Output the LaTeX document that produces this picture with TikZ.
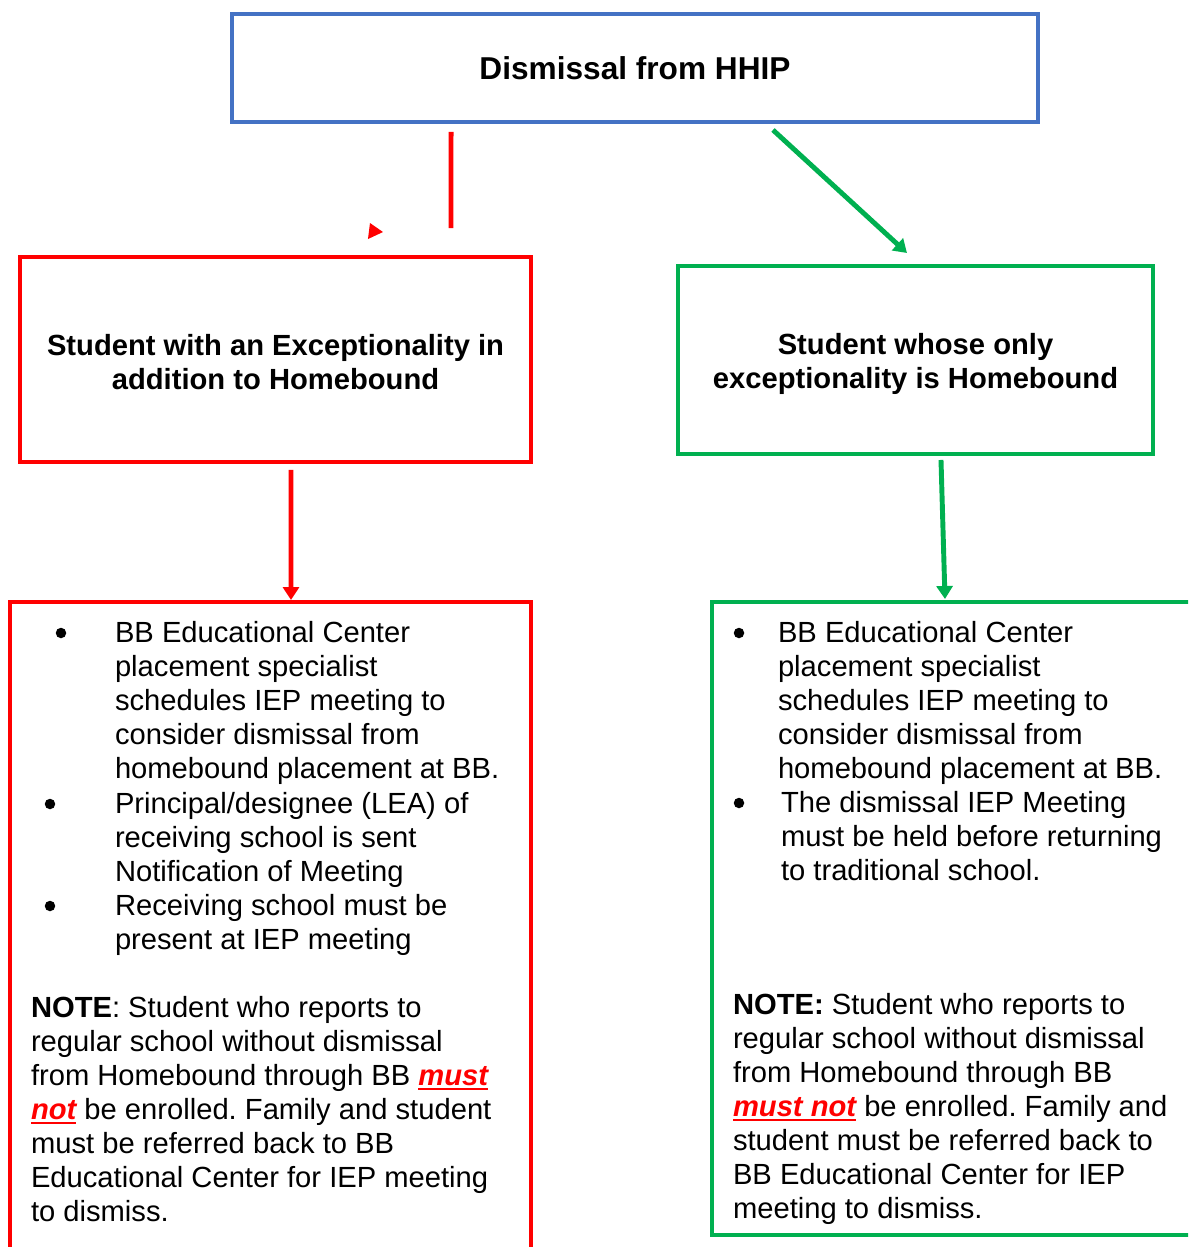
\documentclass[tikz,border=0pt]{standalone}
\usepackage{fontspec}
\setmainfont{Liberation Sans}
\frenchspacing
\usetikzlibrary{positioning}
\usetikzlibrary{calc}
\usetikzlibrary{arrows.meta}
\definecolor{blue}{RGB}{68,114,196}
\definecolor{red}{RGB}{255,0,0}
\definecolor{green}{RGB}{0,176,80}
\newcommand{\mustnot}[1]{{\color{red}\bfseries\itshape\setbox0\hbox{#1}\rlap{\vrule height -1.3pt depth 2.6pt width \wd0}\box0}}

\begin{document}
\begin{tikzpicture}[x=0.02cm, y=-0.02cm, line width=2.3pt,
    box/.style={draw, rectangle, inner sep=0pt, outer sep=0pt},
    head/.style={align=center, inner sep=0pt, font=\fontsize{16.6}{19.35}\selectfont\bfseries},
    txt/.style={align=left, anchor=north west, inner sep=0pt, font=\fontsize{16.6}{19.35}\selectfont},
    dot/.style={circle, fill, inner sep=0pt, minimum size=0.21cm},
    tip/.style={line width=2.8pt, -{Triangle[length=0.26cm,width=0.32cm]}}]

    \useasboundingbox (0,0) rectangle (1188,1247);
    \clip (0,0) rectangle (1188,1247);

    % draw boxes
    \node[box, draw=blue, minimum width=16.12cm, minimum height=2.16cm, font=\fontsize{18}{21}\selectfont\bfseries] (top) at (635,68) {Dismissal from HHIP};
    \node[box, draw=red, minimum width=10.22cm, minimum height=4.1cm, head] (lmid) at (275.5,359.5) {\rule{0pt}{14.4pt}Student with an Exceptionality in\\addition to Homebound};
    \node[box, draw=green, minimum width=9.5cm, minimum height=3.76cm, head] (rmid) at (915.5,360) {\rule{0pt}{16.6pt}Student whose only\\exceptionality is Homebound};
    \node[box, draw=red, minimum width=10.42cm, minimum height=14cm, anchor=north] (lbot) at (270.5,602) {};
    \node[box, draw=green, minimum width=9.76cm, minimum height=12.66cm, anchor=north] (rbot) at (956,602) {};

    % draw connectors
    \draw[red, line width=2.8pt] ([xshift=-3.68cm, yshift=-0.2cm]top.south) -- ([xshift=3.51cm, yshift=0.58cm]lmid.north);
    \coordinate (ltip) at ([xshift=2.15cm, yshift=0.5cm]lmid.north);
    \fill[red] (ltip) -- ++(-13,-9) -- ++(-2,16) -- cycle;
    \draw[green, tip] ([xshift=2.76cm, yshift=-0.16cm]top.south) -- ([xshift=-0.17cm, yshift=0.26cm]rmid.north);
    \draw[red, tip] ([xshift=0.31cm, yshift=-0.16cm]lmid.south) -- ([xshift=0.41cm, yshift=0.04cm]lbot.north);
    \draw[green, tip] ([xshift=0.51cm, yshift=-0.12cm]rmid.south) -- ([xshift=-0.22cm, yshift=0.06cm]rbot.north);

    % left column text
    \node[dot] (ld1) at (61,633) {};
    \node[dot] (ld2) at (50,804) {};
    \node[dot] (ld3) at (50,906) {};
    \node[txt] (lb1) at (113,619.5) {BB Educational Center\\placement specialist\\schedules IEP meeting to\\consider dismissal from\\homebound placement at BB.};
    \node[txt] (lb2) at (113,790.5) {Principal/designee (LEA) of\\receiving school is sent\\Notification of Meeting};
    \node[txt] (lb3) at (113,892.5) {Receiving school must be\\present at IEP meeting};
    \node[txt] (lnote) at (29,994.5) {\textbf{NOTE}: Student who reports to\\regular school without dismissal\\from Homebound through BB \mustnot{must}\\\mustnot{not} be enrolled. Family and student\\must be referred back to BB\\Educational Center for IEP meeting\\to dismiss.};

    % right column text
    \node[dot] (rd1) at (739,633) {};
    \node[dot] (rd2) at (739,803) {};
    \node[txt] (rb1) at (776,619.5) {BB Educational Center\\placement specialist\\schedules IEP meeting to\\consider dismissal from\\homebound placement at BB.};
    \node[txt] (rb2) at (779,789.5) {The dismissal IEP Meeting\\must be held before returning\\to traditional school.};
    \node[txt] (rnote) at (731,991.5) {\textbf{NOTE:} Student who reports to\\regular school without dismissal\\from Homebound through BB\\\mustnot{must not} be enrolled. Family and\\student must be referred back to\\BB Educational Center for IEP\\meeting to dismiss.};
\end{tikzpicture}
\end{document}
